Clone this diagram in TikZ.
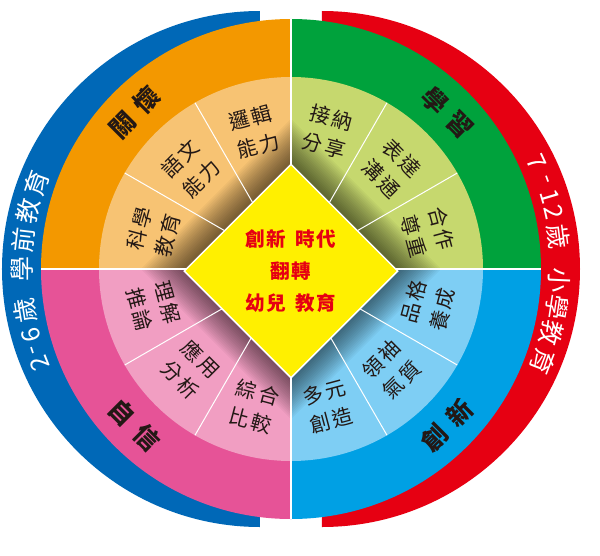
\documentclass[tikz,border=0pt]{standalone}
\usepackage{fontspec}
\usepackage{xcolor}
\usepackage{tikz}
\usetikzlibrary{
  shapes.geometric
}
\newfontfamily\cjksector[LetterSpace=12]{Noto Sans CJK TC}
\newfontfamily\cjkmain[LetterSpace=40]{Noto Sans CJK TC}
\newfontfamily\cjkband{Noto Sans CJK TC}
\newfontfamily\cjkcore[LetterSpace=6]{Noto Sans CJK TC}
\definecolor{CareOrange}{HTML}{F39800}
\definecolor{CareLight}{HTML}{F7C373}
\definecolor{LearnGreen}{HTML}{00A23C}
\definecolor{LearnLight}{HTML}{C6D86E}
\definecolor{TrustPink}{HTML}{E65397}
\definecolor{TrustLight}{HTML}{F19EC2}
\definecolor{NewBlue}{HTML}{00A0E4}
\definecolor{NewLight}{HTML}{7ECEF4}
\definecolor{PreBlue}{HTML}{0068B7}
\definecolor{SchoolRed}{HTML}{E60012}
\definecolor{CoreYellow}{HTML}{FFF000}
\definecolor{TextDark}{HTML}{231815}
\tikzset{
  sectorlabel/.style={
    text=TextDark,
    align=center,
    inner sep=0pt,
    font=\cjksector\fontsize{20.5}{29}\selectfont
  },
  mainlabel/.style={
    text=TextDark,
    inner sep=0pt,
    font=\cjkmain\bfseries\fontsize{25}{30}\selectfont
  },
  bandchar/.style={
    text=white,
    inner sep=0pt,
    font=\cjkband\fontsize{25}{28}\selectfont
  },
  core/.style={
    diamond,
    minimum width=214pt,
    minimum height=214pt,
    inner sep=0pt,
    fill=CoreYellow,
    draw=white,
    line width=1.5pt,
    align=center,
    text=SchoolRed,
    font=\cjkcore\bfseries\fontsize{19.5}{32}\selectfont
  },
  divider/.style={
    white,
    line width=1pt
  },
  cross/.style={
    white,
    line width=1.6pt
  }
}
\begin{document}
\begin{tikzpicture}[x=1pt,y=1pt]

  \useasboundingbox (-291,-286) rectangle (309,269);

  \fill[PreBlue]
  (-31,258) arc[start angle=90,end angle=270,radius=258pt] -- cycle;

  \fill[SchoolRed]
  (31,258) arc[start angle=90,end angle=-90,radius=258pt] -- cycle;

  \foreach \a/\dark/\light in {0/LearnGreen/LearnLight,
    90/CareOrange/CareLight,
    180/TrustPink/TrustLight,
    270/NewBlue/NewLight} {
    \fill[\dark]
    (0,0) -- (\a:250pt) arc[start angle=\a,delta angle=90,radius=250pt] -- cycle;
    \fill[\light]
    (0,0) -- (\a:192pt) arc[start angle=\a,delta angle=90,radius=192pt] -- cycle;
  }

  \begin{scope}
    \clip (0,0) circle (192pt);
    \foreach \i in {1,...,18} {
      \fill[black,opacity=0.034]
      (0,107+2.4*\i) -- (107+2.4*\i,0) --
      (0,-107-2.4*\i) -- (-107-2.4*\i,0) -- cycle;
    }
  \end{scope}

  \foreach \a in {30,60,...,330} {
    \draw[divider] (0,0) -- (\a:192pt);
  }

  \foreach \a in {0,90,180,270} {
    \draw[cross] (0,0) -- (\a:250pt);
  }

  \node[core] (core) at (0,-2) {
    創新\hspace{10pt}時代\\
    翻轉\\
    幼兒\hspace{10pt}教育
  };

  \foreach \a/\txt [count=\i] in {15/{合作\\尊重},
    45/{表達\\溝通},
    75/{接納\\分享},
    105/{邏輯\\能力},
    135/{語文\\能力},
    165/{科學\\教育}} {
    \node[sectorlabel,rotate=\a-90] (upper\i) at (\a:142pt) {\txt};
  }

  \foreach \a/\txt [count=\i] in {195/{理解\\推論},
    225/{應用\\分析},
    255/{綜合\\比較},
    285/{多元\\創造},
    315/{領袖\\氣質},
    345/{品格\\養成}} {
    \node[sectorlabel,rotate=\a+90] (lower\i) at (\a:142pt) {\txt};
  }

  \node[mainlabel,rotate=-45] (learn) at (45:221pt) {學習};
  \node[mainlabel,rotate=45] (care) at (135:221pt) {關懷};
  \node[mainlabel,rotate=-45] (trust) at (225:221pt) {自信};
  \node[mainlabel,rotate=45] (innovate) at (315:221pt) {創新};

  \begin{scope}[shift={(-13,0)}]
    \foreach \a/\ch [count=\i] in {160.5/育,167/教,173.5/前,180/學,189.3/歲,195/6,198.3/-,201.6/2} {
      \node[bandchar,rotate=\a-90] (pre\i) at (\a:256pt) {\ch};
    }
  \end{scope}

  \begin{scope}[shift={(13,0)}]
    \foreach \a/\ch [count=\i] in {24.7/7,20.2/-,16.4/1,12.9/2,7.2/歲,-2.5/小,-8.5/學,-14.5/教,-21.2/育} {
      \node[bandchar,rotate=\a-90] (school\i) at (\a:256pt) {\ch};
    }
  \end{scope}

\end{tikzpicture}
\end{document}
